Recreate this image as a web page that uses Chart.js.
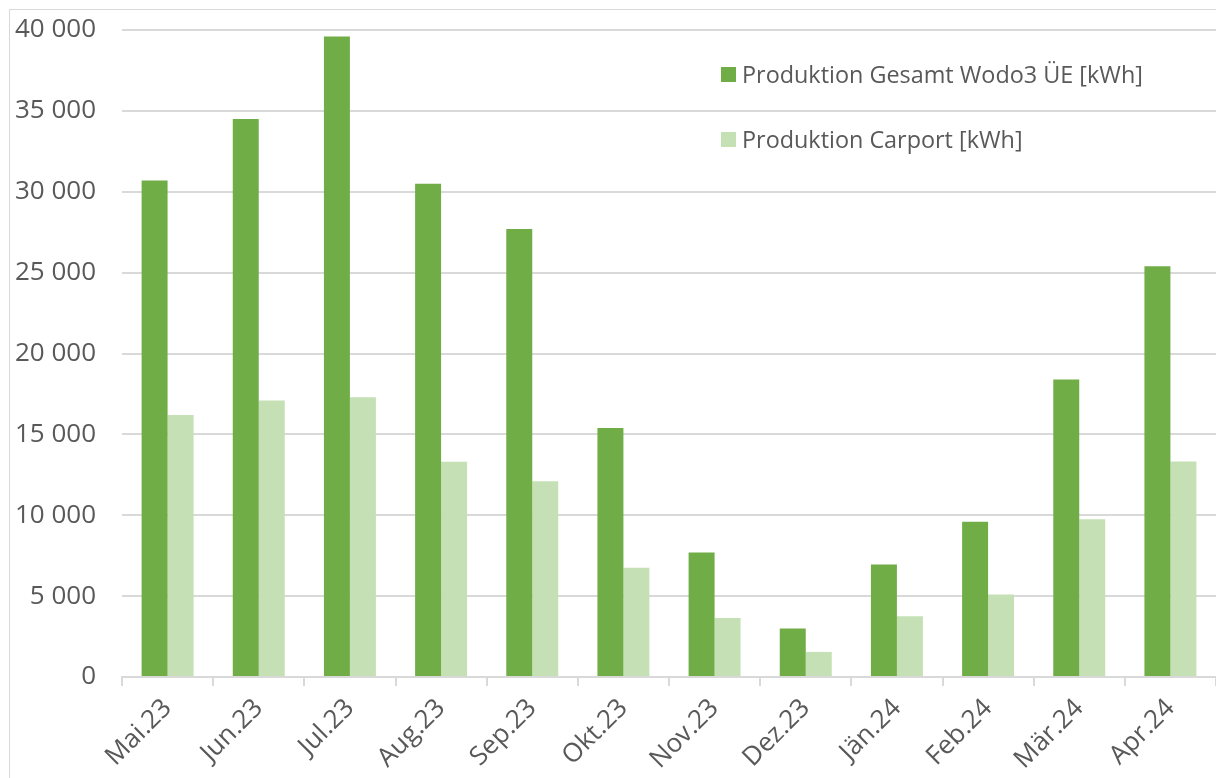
<!DOCTYPE html>
<html>
<head>
<meta charset="utf-8">
<script src="https://cdn.jsdelivr.net/npm/chart.js@4.4.1/dist/chart.umd.min.js"></script>
<style>
  html, body { margin: 0; padding: 0; background: #fff; overflow: hidden; }
  #wrap { position: relative; width: 1216px; height: 778px; }
  #frame { position: absolute; left: 9px; top: 9px; width: 1300px; height: 900px; border: 1px solid #d9d9d9; }
  #chart { position: absolute; left: 0; top: 0; }
  #legend { position: absolute; left: 721px; top: 57px; font-family: "Open Sans", sans-serif; font-size: 23.4px; color: #595959; }
  .item { display: flex; align-items: center; height: 34px; margin-bottom: 31px; }
  .box { width: 15px; height: 15px; margin-right: 6px; }
</style>
</head>
<body>
<div id="wrap">
  <div id="frame"></div>
  <canvas id="chart" width="1216" height="778"></canvas>
  <div id="legend"></div>
</div>
<script>
const months = ["Mai.23", "Jun.23", "Jul.23", "Aug.23", "Sep.23", "Okt.23", "Nov.23", "Dez.23", "Jän.24", "Feb.24", "Mär.24", "Apr.24"];
const gesamt = [30700, 34500, 39600, 30500, 27700, 15400, 7700, 3000, 6950, 9600, 18400, 25400];
const carport = [16200, 17100, 17300, 13300, 12100, 6750, 3650, 1550, 3750, 5100, 9750, 13330];
const seriesNames = ["Produktion Gesamt Wodo3 ÜE [kWh]", "Produktion Carport [kWh]"];
const seriesColors = ["#70ad47", "#c5e0b4"];

const textColor = "#595959";
const gridColor = "#d9d9d9";

function fmt(v) {
  return String(v).replace(/\B(?=(\d{3})+(?!\d))/g, " ");
}

const chart = new Chart(document.getElementById("chart"), {
  type: "bar",
  data: {
    labels: months,
    datasets: [
      { label: seriesNames[0], data: gesamt, backgroundColor: seriesColors[0] },
      { label: seriesNames[1], data: carport, backgroundColor: seriesColors[1] }
    ]
  },
  options: {
    responsive: false,
    animation: false,
    layout: { padding: { top: 30, right: 0, left: 0, bottom: 0 } },
    plugins: {
      legend: { display: false },
      tooltip: { enabled: false }
    },
    datasets: {
      bar: { categoryPercentage: 0.57, barPercentage: 1 }
    },
    scales: {
      x: {
        grid: { display: true, drawOnChartArea: false, drawTicks: true, tickLength: 9, color: gridColor, lineWidth: 2 },
        border: { display: true, color: gridColor, width: 2 },
        ticks: {
          color: textColor,
          font: { family: "Open Sans", size: 26 },
          maxRotation: 45, minRotation: 45,
          padding: 7
        },
        afterFit: s => { s.height = 101; }
      },
      y: {
        min: 0, max: 40000,
        ticks: {
          stepSize: 5000,
          color: textColor,
          font: { family: "Open Sans", size: 26 },
          padding: 26,
          callback: v => fmt(v)
        },
        grid: { color: gridColor, lineWidth: 2, drawTicks: false },
        border: { display: false },
        // tick padding is only wanted horizontally, not above the top label
        afterFit: s => { s.width = 122; s.paddingTop = 0; s.paddingBottom = 0; }
      }
    }
  }
});

// legend built from the datasets
const legend = document.getElementById("legend");
chart.data.datasets.forEach(ds => {
  const row = document.createElement("div");
  row.className = "item";
  row.innerHTML = `<span class="box" style="background:${ds.backgroundColor}"></span><span>${ds.label}</span>`;
  legend.appendChild(row);
});
</script>
</body>
</html>
